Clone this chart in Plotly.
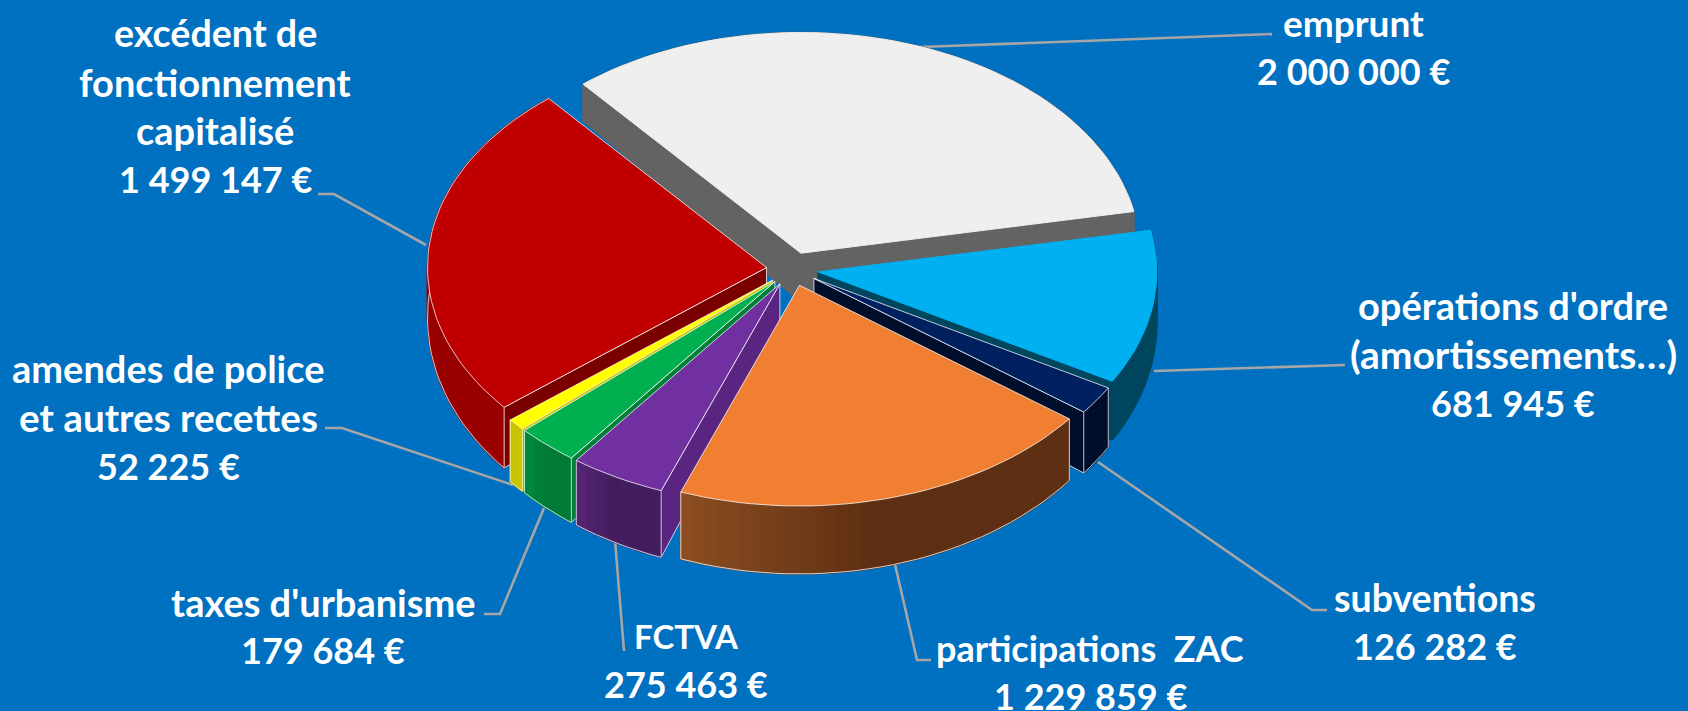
import math
import plotly.graph_objects as go

# ---- data ----
categories = ["emprunt", "opérations d'ordre", "subventions", "participations ZAC",
              "FCTVA", "taxes d'urbanisme", "amendes de police et autres recettes",
              "excédent de fonctionnement capitalisé"]
values = [2000000, 681945, 126282, 1229859, 275463, 179684, 52225, 1499147]
label_lines = [
    ["emprunt", "2 000 000 €"],
    ["opérations d'ordre", "(amortissements…)", "681 945 €"],
    ["subventions", "126 282 €"],
    ["participations  ZAC", "1 229 859 €"],
    ["FCTVA", "275 463 €"],
    ["taxes d'urbanisme", "179 684 €"],
    ["amendes de police", "et autres recettes", "52 225 €"],
    ["excédent de", "fonctionnement", "capitalisé", "1 499 147 €"],
]

# ---- styles (one entry per category) ----
top_colors = ["#EFEFEF", "#00B0F0", "#002060", "#F07F32", "#7030A0", "#00B050", "#FFFF00", "#C00000"]
radial_colors = ["#636363", "#00465F", "#000D2B", "#5E2F12", "#5A2581", "#007F39", "#C8C400", "#7A0000"]
arc_start = ["#636363", "#00465F", "#000D2B", "#5E2F12", "#431D5E", "#007A36", "#C8C400", "#990000"]
arc_end = ["#636363", "#00465F", "#000D2B", "#8B4D20", "#53246F", "#00873D", "#C8C400", "#990000"]
edge_colors = [None, None, "rgba(255,255,255,0.75)", "rgba(255,255,255,0.75)", "rgba(255,255,255,0.75)",
               "rgba(255,255,255,0.75)", "rgba(255,255,255,0.6)", "rgba(255,255,255,0.75)"]
line_sizes = [
    [37, 36],
    [38, 39, 36],
    [37.5, 36],
    [36, 36],
    [33, 36],
    [38, 36],
    [38, 38.7, 36],
    [37.6, 38, 38, 36],
]

BG = "#0070C0"
LEADER = "#A6A6A6"
W, H = 1688, 711
CX, CY = 792.3, 269.1
RX, RY = 339.0, 220.7
EXPLODE = 25.9
START = -40.0
DEPTH0, DEPTH1 = 50.6, 16.1

leader_paths = [
    [(920, 47), (1272, 34)],
    [(1154, 371), (1345, 365)],
    [(1098, 462), (1312, 610), (1327, 610)],
    [(894, 560), (917, 660), (931, 660)],
    [(615, 540), (624, 651)],
    [(544, 508), (500, 614), (484, 614)],
    [(513, 485), (342, 428), (325, 428)],
    [(426, 245), (334, 194), (318, 194)],
]
label_centers = [(1353, 47), (1513, 354), (1435, 622), (1090, 672), (686, 660), (323, 626), (168, 417), (215, 106)]
LINE_STEP = 48.7


def hex_rgb(h):
    return tuple(int(h[i:i + 2], 16) for i in (1, 3, 5))


def mix(c0, c1, t):
    a, b = hex_rgb(c0), hex_rgb(c1)
    return "rgb(%d,%d,%d)" % tuple(round(a[i] + (b[i] - a[i]) * t) for i in range(3))


def drop(px, py):
    """Move a point of the top face to the bottom face (depth grows toward the viewer)."""
    return px, py + DEPTH0 + DEPTH1 * (py - CY) / RY


def poly(fig, pts, fill, line, width=1.0):
    fig.add_trace(go.Scatter(
        x=[p[0] for p in pts] + [pts[0][0]], y=[p[1] for p in pts] + [pts[0][1]],
        mode="lines", fill="toself", fillcolor=fill,
        line=dict(color=line, width=width), hoverinfo="skip", showlegend=False))


def path(fig, pts, color, width):
    fig.add_trace(go.Scatter(
        x=[p[0] for p in pts], y=[p[1] for p in pts], mode="lines",
        line=dict(color=color, width=width), hoverinfo="skip", showlegend=False))


fig = go.Figure()
for p in leader_paths:
    path(fig, p, LEADER, 2.6)

total = sum(values)
spans = []
a = START
for v in values:
    b = a + 360.0 * v / total
    spans.append((a, b))
    a = b

order = sorted(range(len(values)), key=lambda i: -math.cos(math.radians(sum(spans[i]) / 2)))
for i in order:
    a0, a1 = spans[i]
    mid = math.radians((a0 + a1) / 2)
    ax = CX + EXPLODE * math.sin(mid)
    ay = CY - EXPLODE * RY / RX * math.cos(mid)
    n = max(4, int((a1 - a0) / 2))
    arc = []
    for k in range(n + 1):
        t = math.radians(a0 + (a1 - a0) * k / n)
        arc.append((ax + RX * math.sin(t), ay - RY * math.cos(t)))
    apex = (ax, ay)
    edge = edge_colors[i]

    # radial walls: only those turned toward the viewer
    if math.sin(math.radians(a0)) < 0:
        end = arc[0]
        poly(fig, [apex, end, drop(*end), drop(*apex)], radial_colors[i], edge or radial_colors[i], 1)
    if math.sin(math.radians(a1)) > 0:
        end = arc[-1]
        poly(fig, [apex, end, drop(*end), drop(*apex)], radial_colors[i], edge or radial_colors[i], 1)
    # outer wall, shaded step by step
    for k in range(n):
        t = k / max(n - 1, 1)
        shade = mix(arc_start[i], arc_end[i], max(0.0, (t - 0.55) / 0.45))
        seg = [arc[k], arc[k + 1], drop(*arc[k + 1]), drop(*arc[k])]
        poly(fig, seg, shade, shade, 1.5)
    if edge:
        path(fig, [arc[0]] + [drop(*p) for p in arc] + [arc[-1]], edge, 1)
    # top face
    poly(fig, [apex] + arc, top_colors[i], edge or top_colors[i], 1)

annotations = []
for lines, sizes, (lx, ly) in zip(label_lines, line_sizes, label_centers):
    y0 = ly - LINE_STEP * (len(lines) - 1) / 2
    for j, text in enumerate(lines):
        annotations.append(dict(x=lx, y=y0 + j * LINE_STEP, xref="x", yref="y", text=text,
                                showarrow=False, xanchor="center", yanchor="middle",
                                font=dict(family="Lato", size=sizes[j], color="#FFFFFF", weight=700)))

fig.update_layout(
    width=W, height=H, margin=dict(l=0, r=0, t=0, b=0), autosize=False,
    paper_bgcolor=BG, plot_bgcolor=BG, showlegend=False, annotations=annotations,
    xaxis=dict(range=[0, W], visible=False, fixedrange=True),
    yaxis=dict(range=[H, 0], visible=False, fixedrange=True),
)
fig.write_html("out.html", config={"displayModeBar": False, "responsive": False},
               post_script="document.body.style.margin='0';document.body.style.overflow='hidden';")
